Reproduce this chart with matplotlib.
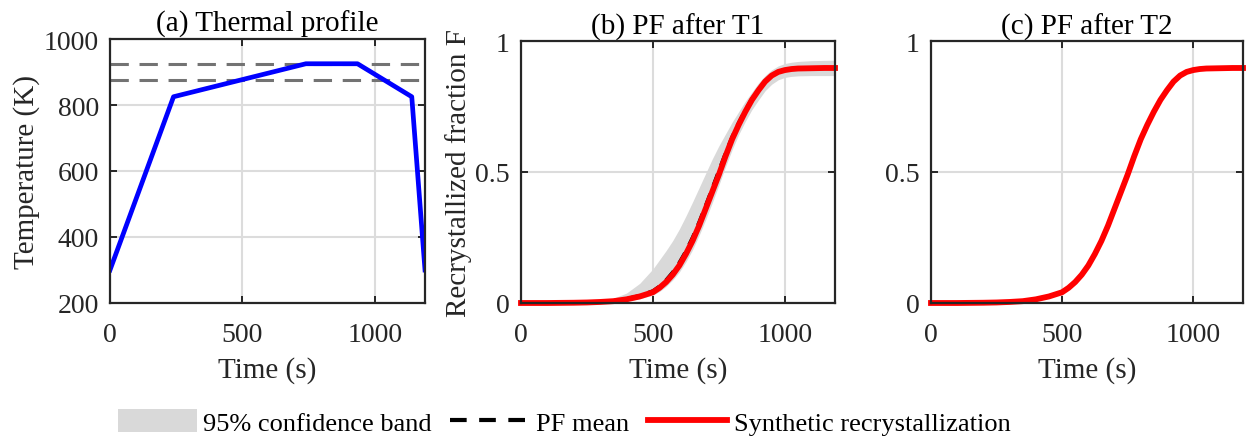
import matplotlib
matplotlib.use("Agg")
import matplotlib.pyplot as plt
from matplotlib.patches import Patch
from matplotlib.lines import Line2D

# ---------------- data ----------------
# (a) thermal profile
t_prof = [0, 240, 740, 935, 1140, 1190]
T_prof = [300, 825, 925, 925, 825, 300]
T_levels = [925, 875]

# time grid for recrystallized fraction curves
t_F = [0, 100, 200, 250, 300, 350, 400, 450, 500, 525, 550, 575, 600, 625, 650,
       675, 700, 725, 750, 775, 800, 825, 850, 875, 900, 925, 950, 975, 1000,
       1025, 1050, 1100, 1150, 1190]

# synthetic recrystallization (same in b and c)
syn = [0, 0, 0.001, 0.002, 0.004, 0.007, 0.014, 0.025, 0.041, 0.058, 0.080,
       0.108, 0.143, 0.187, 0.237, 0.295, 0.360, 0.425, 0.490, 0.560, 0.625,
       0.680, 0.730, 0.775, 0.812, 0.845, 0.868, 0.882, 0.889, 0.893, 0.895,
       0.896, 0.897, 0.897]

# (b) PF after T1
mean_b = [0, 0, 0.001, 0.003, 0.005, 0.009, 0.017, 0.029, 0.047, 0.065, 0.089,
          0.119, 0.156, 0.200, 0.252, 0.311, 0.375, 0.441, 0.508, 0.574, 0.636,
          0.690, 0.738, 0.781, 0.817, 0.848, 0.870, 0.884, 0.890, 0.894, 0.896,
          0.897, 0.898, 0.898]
hi_b = [0, 0, 0.002, 0.004, 0.008, 0.018, 0.038, 0.075, 0.130, 0.165, 0.200,
        0.238, 0.282, 0.332, 0.385, 0.440, 0.495, 0.550, 0.600, 0.645, 0.690,
        0.730, 0.770, 0.805, 0.840, 0.868, 0.890, 0.905, 0.914, 0.919, 0.922,
        0.925, 0.926, 0.927]
lo_b = [0, 0, 0, 0.001, 0.002, 0.004, 0.008, 0.016, 0.030, 0.044, 0.063,
        0.088, 0.118, 0.157, 0.203, 0.258, 0.318, 0.383, 0.450, 0.520, 0.585,
        0.643, 0.693, 0.738, 0.775, 0.810, 0.835, 0.852, 0.861, 0.865, 0.867,
        0.868, 0.868, 0.868]

# (c) PF after T2
mean_c = [0, 0, 0.001, 0.002, 0.004, 0.007, 0.014, 0.025, 0.041, 0.058, 0.080,
          0.108, 0.143, 0.187, 0.237, 0.295, 0.360, 0.425, 0.490, 0.560, 0.625,
          0.680, 0.730, 0.775, 0.812, 0.845, 0.868, 0.882, 0.889, 0.893, 0.895,
          0.896, 0.897, 0.897]
hi_c = [0.002, 0.002, 0.003, 0.004, 0.006, 0.010, 0.018, 0.030, 0.047, 0.065, 0.088,
        0.116, 0.152, 0.196, 0.246, 0.304, 0.369, 0.433, 0.497, 0.567, 0.631,
        0.686, 0.735, 0.780, 0.817, 0.850, 0.873, 0.887, 0.894, 0.898, 0.900,
        0.901, 0.902, 0.902]
lo_c = [0, 0, 0, 0.001, 0.002, 0.004, 0.010, 0.020, 0.035, 0.051, 0.072,
        0.100, 0.134, 0.178, 0.228, 0.286, 0.351, 0.417, 0.483, 0.553, 0.619,
        0.674, 0.725, 0.770, 0.807, 0.840, 0.863, 0.877, 0.884, 0.888, 0.890,
        0.891, 0.892, 0.892]

titles = ["(a) Thermal profile", "(b) PF after T1", "(c) PF after T2"]
legend_labels = ["95% confidence band", "PF mean", "Synthetic recrystallization"]

# ---------------- style ----------------
plt.rcParams['font.family'] = ['Liberation Serif', 'DejaVu Serif']
TICK_FS = 20
LAB_FS = 21
LEG_FS = 19
spine_c = '#262626'
text_c = '#262626'
grid_c = '#dcdcdc'
band_c = '#d9d9d9'
RED_LW = 4.2
MEAN_LS = (0, (4, 3))

fig = plt.figure(figsize=(12.46, 4.39), dpi=100)
W, H = 1246, 439
def pos(l, r, t, b):
    return [l / W, 1 - b / H, (r - l) / W, (b - t) / H]

axa = fig.add_axes(pos(110, 425, 40, 304))
axb = fig.add_axes(pos(521, 835, 42, 304))
axc = fig.add_axes(pos(931, 1243, 42, 304))
XMAX = 1190

def style(ax):
    ax.set_xlim(0, XMAX)
    ax.grid(True, color=grid_c, lw=1.5)
    ax.set_axisbelow(True)
    for s in ax.spines.values():
        s.set_color(spine_c)
        s.set_linewidth(1.6)
        s.set_zorder(10)
    ax.tick_params(direction='in', top=True, right=True, length=5, width=1.4,
                   color=spine_c, labelsize=TICK_FS, labelcolor=text_c)
    ax.tick_params(axis='x', pad=14)
    ax.tick_params(axis='y', pad=8)
    ax.set_xticks([0, 500, 1000])
    ax.set_xlabel("Time (s)", fontsize=LAB_FS, color=text_c, labelpad=6)

# (a)
style(axa)
axa.set_ylim(200, 1000)
axa.set_yticks([200, 400, 600, 800, 1000])
for lv in T_levels:
    axa.axhline(lv, color='#737373', lw=2.2, ls=(0, (6, 3.5)), zorder=2)
axa.plot(t_prof, T_prof, color='#0000ff', lw=3.4, zorder=3, clip_on=True)
axa.set_ylabel("Temperature (K)", fontsize=LAB_FS, color=text_c, labelpad=3)
axa.set_title(titles[0], fontsize=LAB_FS, pad=6, color='black')

# (b)
style(axb)
axb.set_ylim(0, 1)
axb.set_yticks([0, 0.5, 1])
axb.set_yticklabels(["0", "0.5", "1"])
axb.fill_between(t_F, lo_b, hi_b, color=band_c, lw=0, zorder=2)
axb.plot(t_F, mean_b, color='black', lw=2.2, ls=MEAN_LS, zorder=3)
axb.plot(t_F, syn, color='#ff0000', lw=RED_LW, zorder=4, clip_on=False)
axb.set_ylabel("Recrystallized fraction F", fontsize=LAB_FS, color=text_c, labelpad=2)
axb.set_title(titles[1], fontsize=LAB_FS, pad=5)

# (c)
style(axc)
axc.set_ylim(0, 1)
axc.set_yticks([0, 0.5, 1])
axc.set_yticklabels(["0", "0.5", "1"])
axc.fill_between(t_F, lo_c, hi_c, color=band_c, lw=0, zorder=2)
axc.plot(t_F, mean_c, color='black', lw=2.2, ls=MEAN_LS, zorder=3)
axc.plot(t_F, syn, color='#ff0000', lw=RED_LW, zorder=4, clip_on=False)
axc.set_title(titles[2], fontsize=LAB_FS, pad=5)

handles = [Patch(facecolor=band_c, edgecolor='none'),
           Line2D([], [], color='black', lw=3.0, ls=MEAN_LS),
           Line2D([], [], color='#ff0000', lw=RED_LW)]
fig.legend(handles, legend_labels, loc='center', bbox_to_anchor=(564 / W, 1 - 423 / H),
           ncol=3, frameon=False, fontsize=LEG_FS, handlelength=3.0, handleheight=0.95,
           handletextpad=0.25, columnspacing=0.7, borderaxespad=0, borderpad=0)

fig.savefig("out.png", dpi=100)
